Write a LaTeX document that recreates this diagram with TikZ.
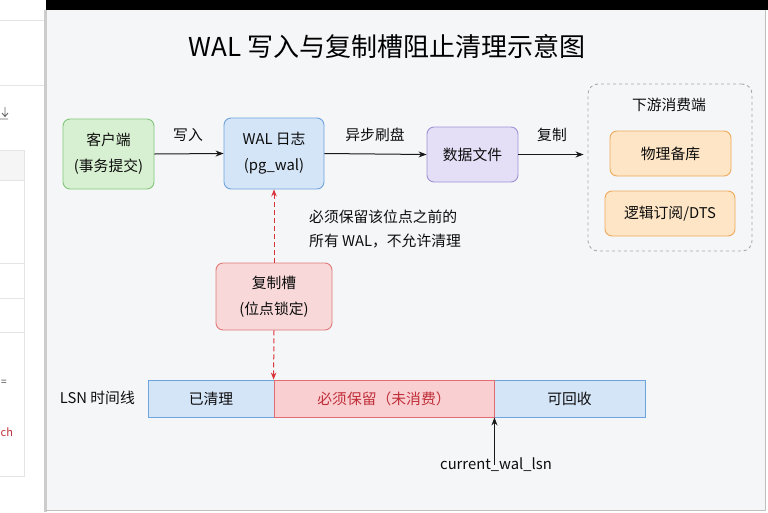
\documentclass[tikz,border=0pt]{standalone}
\usepackage{fontspec}
\setmainfont{Noto Sans CJK SC}
\usetikzlibrary{arrows.meta}
\definecolor{panelbg}{HTML}{F5F6F8}
\definecolor{gfill}{HTML}{D8F0D2}\definecolor{gline}{HTML}{82C77A}
\definecolor{bfill}{HTML}{D5E5F8}\definecolor{bline}{HTML}{6FA3DC}
\definecolor{pfill}{HTML}{E4DEF6}\definecolor{pline}{HTML}{A093D6}
\definecolor{ofill}{HTML}{FDE5C6}\definecolor{oline}{HTML}{EFAA5C}
\definecolor{rfill}{HTML}{F8D8D8}\definecolor{rline}{HTML}{E07A7A}
\definecolor{tfill}{HTML}{F9CFD1}\definecolor{tline}{HTML}{E06C70}
\definecolor{redtxt}{HTML}{C0303A}
\definecolor{redarrow}{HTML}{D9343A}
\definecolor{grp}{HTML}{A8A8A8}
\definecolor{uiline}{HTML}{E4E4E4}
\tikzset{
  txt/.style={font=\fontsize{14.8}{26}\selectfont, text=black!95, inner sep=0pt},
  boxbase/.style={txt, rounded corners=7pt, line width=0.9pt, align=center},
  greenbox/.style={boxbase, fill=gfill, draw=gline},
  bluebox/.style={boxbase, fill=bfill, draw=bline},
  purplebox/.style={boxbase, fill=pfill, draw=pline},
  orangebox/.style={boxbase, fill=ofill, draw=oline},
  redbox/.style={boxbase, fill=rfill, draw=rline},
  seg/.style={txt, line width=0.9pt, minimum height=37pt},
  arr/.style={-{Stealth[length=8pt,width=6pt]}, line width=1pt, black!90},
  redarr/.style={-{Stealth[length=7pt,width=5.5pt]}, line width=1pt, redarrow, dash pattern=on 5pt off 3pt},
}
\begin{document}
\begin{tikzpicture}[x=1pt,y=-1pt]
\useasboundingbox (0,0) rectangle (768,512);
% outside UI strip
\fill[white] (0,0) rectangle (768,512);
\draw[uiline, line width=0.8pt] (0,20) -- (44,20);
\draw[uiline, line width=0.6pt] (0,85) -- (44,85);
\fill[black!4] (0,150) rectangle (24,180);
\draw[uiline, line width=0.6pt] (0,150) -- (24,150) -- (24,476) -- (0,476);
\draw[uiline, line width=0.6pt] (0,180) -- (24,180);
\draw[uiline, line width=0.6pt] (0,263) -- (24,263);
\draw[uiline, line width=0.6pt] (0,298) -- (24,298);
\draw[uiline, line width=0.6pt] (0,332) -- (24,332);
\draw[black!60, line width=0.9pt] (0,119) -- (8,119) (5,107) -- (5,116) (2,113) -- (5,116.5) -- (8,113);
\node[txt, font=\fontsize{10}{11}\selectfont, text=black!75] (eq) at (4,383) {=};
\node[txt, font=\fontsize{11}{12}\selectfont, text=redtxt, anchor=west] (ch) at (0.5,432) {ch};
% panel
\fill[black] (46,0) rectangle (768,10);
\fill[panelbg] (46,10) rectangle (766,510);
\draw[black!20, line width=2.5pt] (45.5,10) -- (45.5,512);
\draw[black!25, line width=0.8pt] (765.5,10) -- (765.5,510.5) -- (46,510.5);
% title
\node[txt, font=\fontsize{26}{28}\selectfont, text=black] (title) at (387,47) {WAL 写入与复制槽阻止清理示意图};
% main flow
\node[greenbox, minimum width=91pt, minimum height=70pt] (client) at (108.5,154) {客户端\\(事务提交)};
\node[bluebox, minimum width=100pt, minimum height=71pt] (wal) at (274,153.5) {WAL 日志\\(pg\_wal)};
\node[purplebox, minimum width=91pt, minimum height=55pt] (data) at (472.5,154.5) {数据文件};
\node[draw=grp, dashed, line width=0.9pt, rounded corners=10pt, minimum width=164pt, minimum height=167pt, inner sep=0pt] (group) at (670,167.5) {};
\node[txt] (grouptitle) at (669,105) {下游消费端};
\node[orangebox, minimum width=121pt, minimum height=45pt] (phys) at (670.5,153.5) {物理备库};
\node[orangebox, minimum width=130pt, minimum height=45pt] (logic) at (670,213.5) {逻辑订阅/DTS};
\draw[arr] (client.east) -- (wal.west);
\node[txt] (lw) at (188,135) {写入};
\draw[arr] (wal.east) -- (data.west);
\node[txt] (lf) at (375,135) {异步刷盘};
\draw[arr] (data.east) -- ([xshift=-4pt]group.west |- data.east);
\node[txt] (lr) at (552,135) {复制};
% slot
\node[redbox, minimum width=116pt, minimum height=67pt] (slot) at (274,296.5) {复制槽\\(位点锁定)};
\draw[redarr] (slot.north) -- (wal.south);
\node[txt, anchor=west] (note1) at (309,217) {必须保留该位点之前的};
\node[txt, anchor=west] (note2) at (309,241) {所有 WAL，不允许清理};
% timeline
\node[txt, anchor=east] (lsn) at (135,398) {LSN 时间线};
\node[seg, fill=bfill, draw=bline, minimum width=126pt] (s1) at (211,398.5) {已清理};
\node[seg, fill=bfill, draw=bline, minimum width=151pt] (s3) at (569.5,398.5) {可回收};
\node[seg, fill=tfill, draw=tline, minimum width=220pt, text=redtxt] (s2) at (384,398.5) {必须保留（未消费）};
\draw[redarr] (slot.south) -- (s2.north west);
\node[txt] (cur) at (496,465) {current\_wal\_lsn};
\draw[arr] ([yshift=-7pt]cur.north -| s2.south east) -- (s2.south east);
\end{tikzpicture}
\end{document}
